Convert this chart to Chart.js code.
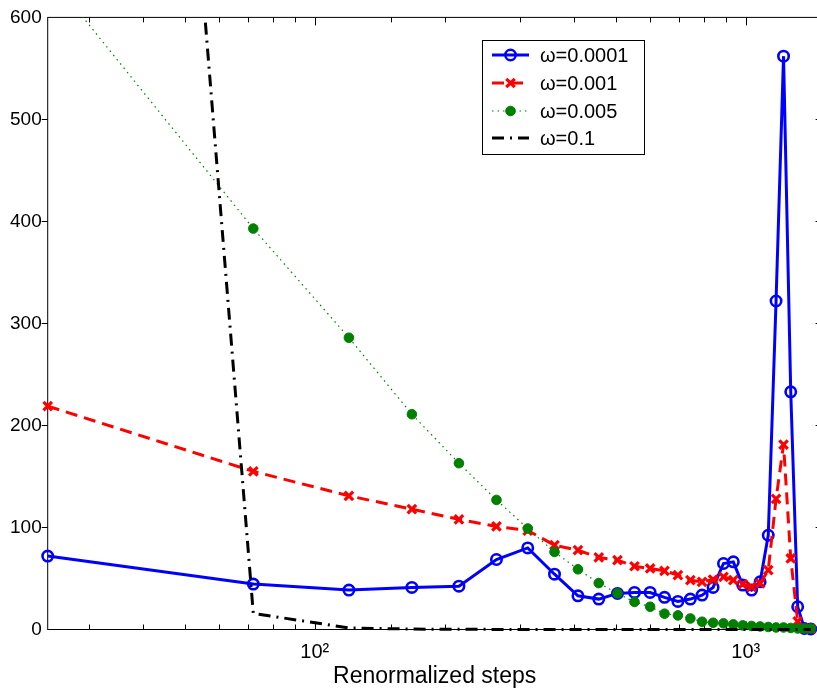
<!DOCTYPE html>
<html>
<head>
<meta charset="utf-8">
<script src="https://cdn.jsdelivr.net/npm/chart.js@4.4.1/dist/chart.umd.min.js"></script>
<style>
  html, body { margin: 0; padding: 0; background: #fff; overflow: hidden; }
  #wrap { position: absolute; left: 0; top: 0; width: 824px; height: 692px; }
</style>
</head>
<body>
<div id="wrap"><canvas id="c" width="824" height="692"></canvas></div>
<script>
// ---- data ----
const steps = [24, 72, 120, 168, 216, 264, 312, 360, 408, 456, 504, 552, 600, 648, 696, 744, 792, 840, 888, 936, 984, 1032, 1080, 1128, 1176, 1224, 1272, 1320, 1368, 1416];
const omega00001 = [72, 44.5, 38.6, 41.2, 42.5, 68.6, 80, 54.2, 33, 29.8, 35.4, 36.3, 36.3, 31.5, 27.5, 29.8, 33.7, 41.2, 64.7, 66.3, 43.5, 38.6, 46.7, 92.4, 322, 562, 233, 22.3, 1, 0.5];
const omega0001 = [219, 155, 131, 118, 108, 101, 97, 82.6, 77.7, 70.6, 68, 62, 59.8, 57.5, 53.3, 48.4, 46.7, 49, 51.6, 48.4, 44.5, 41.8, 45.2, 58.2, 128, 181.3, 69.6, 8, 1, 0.5];
const omega0005 = [643, 393, 286, 211, 163, 127, 99, 76, 59, 45.5, 35.4, 27, 22.3, 15.5, 13.8, 10.8, 7.6, 6.6, 6, 5, 4, 3.5, 3, 2.5, 2, 2, 1.5, 1, 1, 1];
const omega01 = [2500, 15.8, 1.5, 0.4, 0.2, 0.1, 0, 0, 0, 0, 0, 0, 0, 0, 0, 0, 0, 0, 0, 0, 0, 0, 0, 0, 0, 0, 0, 0, 0, 0];
const seriesLabels = ['\u03c9=0.0001', '\u03c9=0.001', '\u03c9=0.005', '\u03c9=0.1'];
const yTickValues = [0, 100, 200, 300, 400, 500, 600];
const xTitle = 'Renormalized steps';

const FONT = '"Liberation Sans", Arial, Helvetica, sans-serif';
Chart.defaults.font.family = FONT;
Chart.defaults.color = '#000';

function pts(arr) { return steps.map((s, i) => ({ x: s, y: arr[i] })); }
const clipBox = { left: 10, right: 10, top: 0, bottom: 10 };

const styles = [
  { color: '#0000ff', width: 3, dash: [], point: 'circle', r: 5.2, pbw: 2.6, fill: 'rgba(0,0,0,0)' },
  { color: '#ff0000', width: 3, dash: [12, 7], point: 'crossRot', r: 6, pbw: 3.2, fill: '#ff0000' },
  { color: '#008000', width: 1.2, dash: [1.5, 4], point: 'circle', r: 4.8, pbw: 1, fill: '#008000' },
  { color: '#000000', width: 3, dash: [12, 6, 2, 6], point: false, r: 0, pbw: 0, fill: '#000' }
];
const seriesData = [omega00001, omega0001, omega0005, omega01];

const datasets = seriesData.map((arr, i) => ({
  label: seriesLabels[i],
  data: pts(arr),
  borderColor: styles[i].color,
  borderWidth: styles[i].width,
  borderDash: styles[i].dash,
  pointStyle: styles[i].point,
  pointRadius: styles[i].r,
  pointBorderWidth: styles[i].pbw,
  pointBorderColor: styles[i].color,
  pointBackgroundColor: styles[i].fill,
  pointHoverRadius: styles[i].r,
  tension: 0,
  fill: false,
  clip: clipBox,
  order: 3 - i
}));

const boxPlugin = {
  id: 'box',
  beforeDatasetsDraw(chart) {
    const { ctx, chartArea: a, scales: { x, y } } = chart;
    ctx.save();
    ctx.strokeStyle = '#000';
    ctx.lineWidth = 1;
    ctx.strokeRect(a.left, a.top, a.right - a.left, a.bottom - a.top);
    ctx.beginPath();
    x.ticks.forEach(t => {
      const v = t.value;
      if (v <= x.min || v >= x.max) return;
      const px = Math.round(x.getPixelForValue(v)) + 0.5;
      const lg = Math.log10(v);
      const major = Math.abs(lg - Math.round(lg)) < 1e-9;
      const len = major ? 8 : 5;
      ctx.moveTo(px, a.bottom); ctx.lineTo(px, a.bottom - len);
      ctx.moveTo(px, a.top); ctx.lineTo(px, a.top + len);
    });
    y.ticks.forEach(t => {
      if (t.value <= y.min || t.value >= y.max) return;
      const py = Math.round(y.getPixelForValue(t.value)) + 0.5;
      ctx.moveTo(a.left - 6, py); ctx.lineTo(a.left, py);
      ctx.moveTo(a.right, py); ctx.lineTo(a.right - 6, py);
    });
    ctx.stroke();
    ctx.restore();
  }
};

const legendPlugin = {
  id: 'mlegend',
  afterDraw(chart) {
    const ctx = chart.ctx;
    const bx = 482, by = 40, bw = 162, bh = 114;
    ctx.save();
    ctx.fillStyle = '#fff';
    ctx.fillRect(bx, by, bw, bh);
    ctx.strokeStyle = '#000';
    ctx.lineWidth = 1;
    ctx.strokeRect(bx + 0.5, by + 0.5, bw, bh);
    const rows = [55, 83, 111, 138];
    chart.data.datasets.forEach((ds, i) => {
      const st = styles[i];
      const yy = rows[i];
      ctx.save();
      ctx.strokeStyle = st.color;
      ctx.lineWidth = st.width;
      ctx.setLineDash(st.dash);
      ctx.beginPath();
      ctx.moveTo(492, yy); ctx.lineTo(529, yy);
      ctx.stroke();
      ctx.setLineDash([]);
      const cx = 510.5;
      if (st.point === 'circle') {
        ctx.beginPath();
        ctx.arc(cx, yy, st.r, 0, Math.PI * 2);
        ctx.lineWidth = st.pbw;
        ctx.strokeStyle = st.color;
        if (i === 2) { ctx.fillStyle = st.fill; ctx.fill(); }
        ctx.stroke();
      } else if (st.point === 'crossRot') {
        const d = st.r * 0.707;
        ctx.lineWidth = st.pbw;
        ctx.beginPath();
        ctx.moveTo(cx - d, yy - d); ctx.lineTo(cx + d, yy + d);
        ctx.moveTo(cx - d, yy + d); ctx.lineTo(cx + d, yy - d);
        ctx.stroke();
      }
      ctx.restore();
      ctx.fillStyle = '#000';
      ctx.font = '20px ' + FONT;
      ctx.textAlign = 'left';
      ctx.textBaseline = 'middle';
      ctx.fillText(ds.label, 540, yy + 1.5);
    });
    ctx.restore();
  }
};

new Chart(document.getElementById('c'), {
  type: 'line',
  data: { datasets },
  options: {
    responsive: false,
    devicePixelRatio: 1,
    animation: false,
    events: [],
    layout: { autoPadding: false, padding: { left: 0, right: 2.4, top: 15.7, bottom: 0 } },
    plugins: { legend: { display: false }, tooltip: { enabled: false } },
    scales: {
      x: {
        type: 'logarithmic',
        min: 24,
        max: 1500,
        grid: { display: false, drawTicks: false },
        border: { display: false },
        ticks: {
          autoSkip: false,
          maxRotation: 0,
          padding: 11,
          font: { size: 20 },
          color: '#000',
          callback: (v) => (v === 100 ? '10\u00b2' : (v === 1000 ? '10\u00b3' : ''))
        },
        title: { display: true, text: xTitle, font: { size: 23 }, color: '#000', padding: { top: 0, bottom: 2 } },
        afterFit(s) { s.height = 62.5; s.paddingLeft = 0; s.paddingRight = 0; }
      },
      y: {
        type: 'linear',
        min: 0,
        max: 600,
        afterBuildTicks(s) { s.ticks = yTickValues.map(v => ({ value: v })); },
        grid: { display: false, drawTicks: false },
        border: { display: false },
        ticks: { padding: 6, font: { size: 19 }, color: '#000' },
        afterFit(s) { s.width = 47.7; }
      }
    }
  },
  plugins: [boxPlugin, legendPlugin]
});
</script>
</body>
</html>
